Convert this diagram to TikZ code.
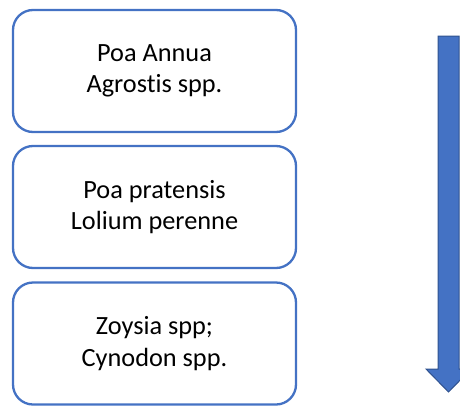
\documentclass[tikz,border=0pt]{standalone}
\usepackage{fontspec}
\setmainfont[Ligatures=NoCommon]{Carlito}
\definecolor{boxblue}{HTML}{4472C4}
\definecolor{darkblue}{HTML}{2F528F}
\newcommand{\nolig}{\kern0pt\relax}
\begin{document}
\begin{tikzpicture}[x=1pt,y=-1pt,
  grassbox/.style={draw=boxblue, line width=2.3pt, rounded corners=20pt, fill=white,
    minimum width=283pt, minimum height=122pt, align=center, inner sep=0pt,
    font=\fontsize{26.3}{31.5}\selectfont, text=black}]
\useasboundingbox (0,0) rectangle (460,407);
\node[grassbox] (b1) at (154.5,71) {Poa Annua\\Agrost\nolig is spp.};
\node[grassbox] (b2) at (154.5,207) {Poa pratensis\\Lolium perenne};
\node[grassbox] (b3) at (154.5,343.5) {Zoysia spp;\\Cynodon spp.};
\coordinate (atop) at (448.5,36);
\coordinate (atip) at (448.5,392);
\begin{scope}
\clip (0,0) rectangle (460,407);
\filldraw[fill=boxblue, draw=darkblue, line width=1pt, line join=miter]
  (438,36) -- (459,36) -- (459,369) -- (471,369) -- (atip) -- (426,369) -- (438,369) -- cycle;
\end{scope}
\end{tikzpicture}
\end{document}
